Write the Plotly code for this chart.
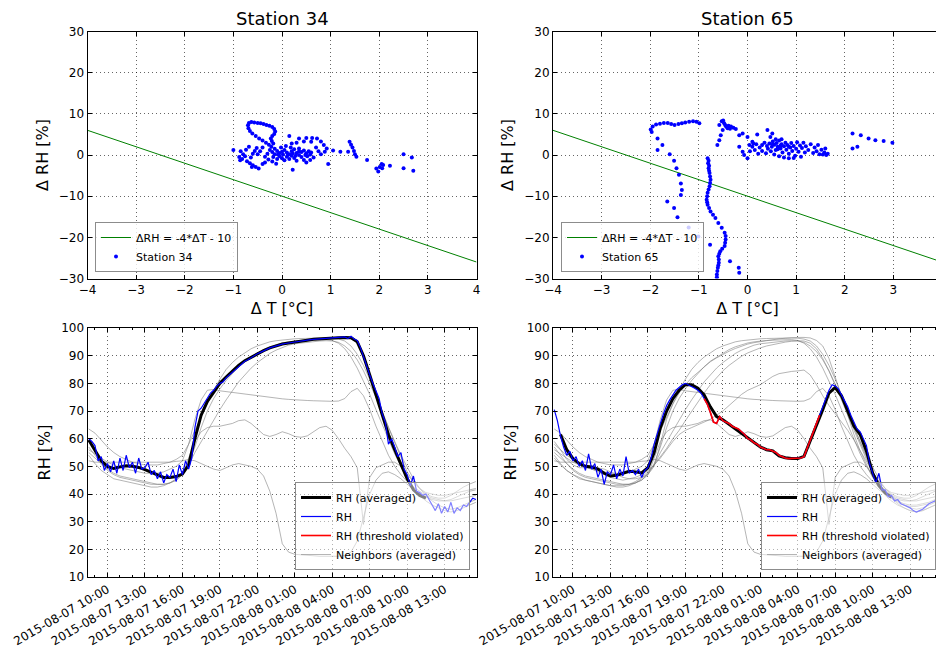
import pandas as pd
import plotly.graph_objects as go

# ---------------- time grids ----------------
t30 = pd.date_range("2015-08-07 08:30", periods=63, freq="30min")
t15 = pd.date_range("2015-08-07 08:30", periods=125, freq="15min")

# ---------------- scatter data (dT, dRH) ----------------
s34_dT = [-0.70, -0.68, -0.63, -0.57, -0.50, -0.44, -0.38, -0.32, -0.26, -0.20, -0.16, -0.14, -0.16, -0.20, -0.23, -0.21, -0.18,
          -0.69, -0.66, -0.61, -0.54, -0.47, -0.40, -0.33, -0.27, -0.22,
          -0.15, -0.10, -0.05, 0.00, 0.05, 0.10, 0.15, 0.20, 0.25, 0.30, 0.35, 0.40, 0.45, 0.50, 0.55, -0.05, 0.00, 0.05, 0.10, 0.15, 0.20,
          -0.10, -0.15, -0.20, -0.25, -0.30, -0.35, -0.28, -0.20, -0.12, 0.25, 0.30, 0.35, 0.40, 0.45, 0.52, 0.58, -0.40, -0.45, -0.50,
          -0.02, 0.08, 0.18, 0.12, -0.08, 0.02, 0.22, 0.28, -0.18, 0.35, 0.48, 0.60,
          -0.85, -0.80, -0.88, -0.82, -0.76, -0.72, -0.66, -0.60, -0.54, -0.48, -0.64, -0.60, -0.56, -0.52, -0.68, -0.74, -0.86, -0.62, -0.40, -0.35, -1.00,
          0.15, 0.35, 0.50, 0.62, 0.72, 0.80, 0.86, 0.92, 0.60, 0.45, 0.30, 0.20, 0.70, 0.75, 0.80, 0.65, 0.58, 0.50, 0.22, 0.95, 0.88,
          1.05, 1.20, 1.36, 1.39, 1.42, 1.45, 1.48, 1.50, 1.53, 1.75, 1.94, 1.98, 2.01, 2.05, 2.08, 2.06, 2.22, 2.50, 2.50, 2.67, 2.70]
s34_dRH = [7.2, 7.8, 8.0, 7.9, 7.8, 7.7, 7.5, 7.3, 7.1, 6.8, 6.3, 5.7, 5.1, 4.6, 4.0, 3.4, 2.8,
           6.5, 5.8, 5.2, 4.6, 4.0, 3.5, 3.0, 2.5, 2.0,
           1.5, 1.0, 0.5, 0.8, 1.2, 0.6, 0.2, 0.9, 1.4, 0.5, 0.0, 0.7, 1.1, 0.4, 0.9, -0.3, -0.8, -1.3, -0.4, -1.0, -0.2,
           -1.0, 0.2, 0.7, 1.2, 0.3, -0.4, -1.1, -1.6, -2.1, -0.7, -1.4, 1.6, -0.5, -1.2, -0.3, 0.1, 1.8, 0.9, 0.2,
           1.8, 2.2, 1.8, 0.0, 0.2, 0.1, 0.4, -0.2, -0.5, 0.9, 0.0, 0.6,
           0.9, 0.2, -0.5, -1.0, -0.3, -1.5, -2.0, -2.5, -2.9, -3.3, -0.6, 0.3, 1.0, 1.7, 2.0, 1.3, -1.3, -2.9, -2.2, -1.8, 1.2,
           4.6, 4.0, 4.1, 4.1, 4.0, 3.3, 2.4, 1.6, 3.2, 3.3, 3.0, 2.8, 1.8, 0.9, 0.2, -0.6, -1.2, -1.8, -3.6, -2.2, 0.8,
           1.1, 0.8, 0.8, 3.2, 2.5, 1.8, 1.0, 0.2, -0.4, -1.2, -3.3, -4.0, -2.9, -2.2, -2.4, -3.2, -2.6, 0.2, -3.2, -0.6, -3.8]

s65_dT = [-1.97, -1.99, -1.95, -1.88, -1.80, -1.72, -1.64, -1.57, -1.50, -1.42, -1.35, -1.28, -1.20, -1.12, -1.05, -0.99,
          -1.85, -1.75, -1.85, -1.60, -1.51, -1.46, -1.41, -1.37, -1.35, -1.37, -1.65, -1.51, -1.44, -1.21, -1.01, -0.77,
          -0.82, -0.81, -0.80, -0.78, -0.76, -0.78, -0.82, -0.84, -0.82, -0.76, -0.71, -0.66, -0.60, -0.53, -0.47, -0.45, -0.45, -0.46,
          -0.47, -0.52, -0.56, -0.58, -0.60, -0.59, -0.59, -0.60, -0.61, -0.62, -0.63, -0.63, -0.80, -0.79, -0.79, -0.77, -0.77, -0.80,
          -0.83, -0.83, -0.79, -0.36, -0.18, -0.17,
          -0.58, -0.53, -0.48, -0.44, -0.39, -0.34, -0.29, -0.24, -0.51, -0.55, -0.58, -0.62, -0.50, -0.46, -0.41, -0.36,
          -0.17, -0.10, 0.00, 0.10, 0.20, 0.41, 0.51, 0.47, -0.17, -0.10, 0.00, -0.07, 0.04,
          0.10, 0.18, 0.25, 0.30, 0.35, 0.40, 0.42, 0.45, 0.50, 0.52, 0.55, 0.58, 0.60, 0.62, 0.65, 0.68, 0.70, 0.72, 0.75, 0.78,
          0.80, 0.82, 0.85, 0.88, 0.90, 0.92, 0.95, 0.98, 1.00, 1.02, 1.05, 1.08, 1.10, 1.12, 1.15, 1.18, 1.20, 1.25, 1.30, 1.35,
          1.38, 1.42, 1.45, 1.48, 1.52, 1.55, 1.58, 1.62, 1.65, 1.60, 0.30, 0.38, 0.48, 0.55, 0.65, 0.75, 0.85, 0.95, 0.58, 0.70,
          0.15, 0.22, 0.05, 0.12, 0.85, 0.62, 0.68, 0.52,
          2.16, 2.33, 2.49, 2.63, 2.80, 2.98, 2.16, 2.26]
s65_dRH = [5.6, 6.2, 6.9, 7.4, 7.6, 7.8, 7.8, 7.5, 7.3, 7.5, 7.7, 7.9, 8.1, 8.2, 8.1, 7.7,
           4.0, 2.4, 1.2, 0.2, -1.4, -3.2, -4.8, -6.9, -8.5, -9.7, -11.3, -12.9, -15.1, -17.6, -19.8, -21.8,
           -0.8, -2.0, -3.2, -4.4, -6.0, -7.6, -9.2, -10.9, -12.1, -13.7, -14.5, -15.3, -16.5, -17.7, -18.9, -19.7, -20.5, -21.3,
           -22.1, -22.8, -23.4, -24.0, -24.6, -25.4, -26.2, -26.8, -27.4, -28.2, -29.0, -29.7, -1.4, -2.6, -3.8, -5.2, -6.8, -8.4,
           -10.0, -11.5, -12.9, -25.8, -27.4, -28.6,
           7.3, 8.2, 7.7, 6.9, 7.1, 6.9, 6.6, 6.3, 6.1, 4.8, 3.6, 2.4, 8.4, 7.3, 6.5, 6.4,
           4.8, 5.2, 4.4, 3.2, 5.0, 6.1, 5.2, 4.4, 2.0, 0.8, -0.8, 0.0, 2.4,
           2.0, 2.6, 1.8, 2.4, 3.0, 2.2, 1.5, 2.8, 2.0, 3.3, 2.5, 1.2, 2.9, 2.0, 3.5, 1.6, 2.6, 0.6, 2.1, 3.0,
           1.3, 2.4, 0.3, 1.8, 2.9, 1.0, 2.2, -0.2, 1.5, 3.1, 0.8, 2.3, -0.4, 1.7, 3.0, 0.6, 2.1, 1.2, 2.6, 0.5,
           1.8, 0.9, 2.4, 0.2, 1.3, 0.1, 0.6, 0.0, 0.3, 1.6, 1.0, 0.4, 0.9, 0.1, -0.3, -0.6, -0.8, -0.7, 3.8, 3.8,
           1.2, 0.3, 0.9, 2.8, 2.0, 1.4, 2.3, 2.6,
           5.2, 4.8, 4.0, 3.6, 3.4, 3.0, 1.6, 2.0]

# threshold line  dRH = -4*dT - 10 (end points)
line_dT = [-4, 4]
line_dRH = [6, -26]

# ---------------- RH time series (15-min raw) ----------------
rh34 = [60, 59,
        57.5, 52, 53.5, 48.5, 51, 48, 52, 47.5, 53, 48.5, 54, 49.5, 51.5, 47.5, 53, 49,
        49.5, 51.5, 47, 48.5, 45.5, 48, 44, 47, 46, 49, 44.5, 50.5, 47, 52, 49, 53,
        64, 70, 71, 73, 74.5, 76.5, 77.5, 79, 80, 80.5, 82, 83, 84, 85, 86, 87,
        88, 88.5, 89.3, 90, 90.7, 91.2, 91.8, 92.3, 92.8, 93.2, 93.6, 93.9,
        94.2, 94.4, 94.6, 94.8, 95, 95.2, 95.3, 95.5, 95.6, 95.8, 95.9, 96, 96.1, 96.2, 96.3, 96.4,
        96.4, 96.5, 96.5, 96.6, 96.8, 96.2, 97, 96, 95.5, 93, 89.5, 86.5, 83, 80, 77, 74.5,
        69, 66, 58, 60, 57, 53.5, 55, 49, 47, 43, 46.5, 41, 40.5, 39.5, 40, 38,
        36, 34, 36.5, 33, 35.5, 33.5, 37, 33, 35, 34, 36, 35.5, 37, 38.5, 38]
rh65 = [70.5, 66.5,
        61, 57, 54, 55.5, 52, 53.5, 50, 52, 48.5, 54.5, 49, 51, 46, 49, 43.5, 48,
        47, 50.5, 45.5, 49, 46.5, 53.5, 47.5, 48.5, 47, 49, 46, 48.5, 49.5, 53, 58, 62,
        65.5, 69, 72, 74, 76, 77.5, 78.5, 79.5, 80, 79.5, 79, 78.2, 77.5, 76.5, 74.5, 72.5,
        69.5, 66, 65.5, 68, 66.5, 66, 65.5, 64.5, 64, 63.5, 62.5, 61.5,
        60, 59.5, 58.5, 58, 57, 56.5, 56, 56, 55.5, 55, 54, 53.5, 53, 52.8, 52.8, 52.8,
        52.8, 53, 53.5, 56.5, 59, 62.5, 65.5, 68.5, 71, 74.5, 77.5, 79.5, 79, 78, 76, 73.5,
        71.5, 68.5, 66, 63.5, 62.5, 60, 57.5, 51, 47, 44, 47.5, 41.5, 41.5, 39, 39.5, 37.5,
        38, 36.5, 36, 35.5, 35, 34, 33.5, 34, 34.5, 35.5, 36.5, 37, 37.5, 38.5, 40]
violated65 = ("2015-08-07 20:30", "2015-08-08 05:45")
violated34 = None

# ---------------- averaged RH (30-min) ----------------
avg34 = [59.5,
         56, 52, 50, 49.2, 49.8, 50.2, 50, 49.6, 48.8, 47.8, 46.8, 46, 46, 46.3, 47.2, 50.5,
         60, 68.5, 73.5, 77, 80, 82.3, 84.5, 86.5, 88.2, 89.5, 90.7, 91.8, 92.8, 93.6,
         94.2, 94.6, 95, 95.3, 95.6, 95.9, 96.1, 96.3, 96.4, 96.5, 96.6, 96.5, 95, 90, 83, 76,
         69, 61.5, 56, 50.5, 45.5, 41.5, 39.5, 38.5, None, None, None, None, None, None, None, None]
avg65 = [None,
         61.5, 56, 52.8, 51, 50, 49.8, 49, 47.5, 46.5, 46.8, 47.5, 48.2, 48, 47.6, 49.5, 55,
         64, 70, 74.5, 77.5, 79.5, 79.5, 78.2, 75.8, 71.5, 68, 66.8, 65.2, 63.6, 62,
         60.2, 58.7, 57, 56, 55.6, 53.8, 53.1, 52.8, 52.8, 53.6, 59, 65, 70.5, 76.5, 78.5, 75.5,
         70, 64.5, 61.5, 55.5, 47.5, 43, 40.4, 38.8, None, None, None, None, None, None, None, None]

# ---------------- neighbours (averaged, 30-min) ----------------
nb_fast = [63.5,
           62, 59.5, 57, 55, 53.5, 52.5, 51.5, 51, 50.5, 50.5, 50.5, 51, 51.5, 52.5, 54, 58,
           63, 68, 73, 77.5, 81.5, 85, 87.5, 89.5, 91, 92.5, 93.5, 94.3, 95, 95.4,
           95.7, 96, 96.1, 96.2, 96.3, 96.3, 96.4, 96.4, 96.3, 96, 95.3, 93.5, 90.5, 86.5, 81.5, 76,
           70, 64, 58.5, 53, 48, 44.5, 42, 40.5, 40, 39.5, 39.5, 40, 40.5, 41, 41.5, 42]
nb_slow = [54,
           51, 48.5, 47, 45.5, 45, 44.5, 44, 43.5, 43, 42.5, 42.5, 43, 44, 45.5, 47.5, 50.5,
           55, 59, 62.5, 66.5, 70.5, 74, 77.5, 80.5, 83, 85.5, 87.5, 89.3, 90.8, 92,
           93, 93.8, 94.3, 94.6, 94.9, 95.1, 95.3, 95.4, 95.3, 94.8, 93.5, 91.5, 88.5, 84.5, 80, 75,
           69.5, 64, 59, 54, 49.5, 45.5, 42, 39.5, 37.5, 36, 35, 34.5, 35, 36, 37, 38]
nb_mid = [57,
          54, 51, 48.5, 47, 46, 45.5, 45, 44.5, 44, 43.5, 43.5, 43.5, 44, 45, 47, 51,
          57, 64, 70, 74.5, 78, 81, 83.5, 86, 88, 89.5, 91, 92.2, 93.2, 94,
          94.6, 95, 95.3, 95.5, 95.6, 95.7, 95.8, 95.8, 95.5, 94.5, 92.5, 89.5, 85.5, 81, 76, 70.5,
          65, 59.5, 54.5, 50, 46, 42.5, 39.5, 37.5, 36, 35, 34, 33.5, 34, 35, 36, 37]
nb_77 = [56,
         54.5, 53, 51.5, 50.5, 49.5, 49, 48.5, 48, 47.5, 47.5, 47.5, 48, 49, 50, 52, 58,
         67, 74, 77.5, 77.8, 77.3, 77, 76.6, 76.3, 76, 75.7, 75.4, 75.1, 74.8, 74.6,
         74.4, 74.2, 74, 73.9, 73.8, 73.7, 73.6, 73.5, 73.5, 73.6, 74.5, 77, 78.2, 75.5, 70.5, 64.5,
         59, 54, 50, 47, 44.5, 42.5, 41, 39.5, 38.5, 38, 37.5, 37.5, 38, 38.5, 39, 39.5]
nb_wavy = [55,
           53, 51, 49, 47.5, 46.5, 46, 45.5, 45, 44.5, 44, 43.5, 43.5, 44, 45, 47, 53,
           59, 62.5, 64, 64.5, 64.5, 65, 65.5, 66.5, 66.8, 65.5, 63.5, 61.5, 60.8, 61.5,
           62.5, 61.8, 60.8, 60.5, 61, 62.5, 64, 64.5, 63, 60, 56.5, 53.5, 49.5, 29, 46, 49.5,
           50.5, 51.5, 51.5, 50, 47, 44.5, 42, 40, 39, 38.5, 38.5, 39.5, 41, 42.5, 43.6, 44.5]
nb_drop = [52,
           51.5, 51.5, 51.5, 51.5, 51.5, 51.5, 51.5, 51.5, 51.5, 51.5, 51.5, 51.5, 51.5, 51.8, 52, 52.5,
           52, 51, 50, 49, 48.5, 49.5, 50.5, 51, 50.5, 50, 49, 46.5, 41, 33,
           22, 19, 18.2, 18, 17.8, 17.6, 17.5, 17.5, 17.5, 17.5, 17.8, 19, 23, 32, 40, 45,
           47.5, 48, 47, 45.5, 43.5, 41.5, 40, 39, 38, 37.5, 37.5, 38, 39, 40, 41, 41.5]
nb_a = [53,
        50.5, 48.5, 47, 46, 45, 44.5, 44, 43.5, 43, 43, 43, 43.5, 44.5, 46, 48, 50.5,
        53.5, 56.5, 60, 63, 66.5, 70, 73.5, 76.5, 79.5, 82, 84.5, 86.5, 88.3, 89.8,
        91, 92, 92.8, 93.5, 94, 94.5, 94.9, 95.2, 95.4, 95.3, 94.5, 92.5, 89, 84.5, 79.5, 74,
        68.5, 63, 57.5, 52.5, 48, 44, 41, 38.5, 36.5, 35, 34, 33.5, 34, 35, 36, 37]
nb_b = [59,
        56, 52.5, 50.5, 49.5, 49.5, 49.8, 49.5, 49, 48, 47, 46, 45.5, 45.5, 46, 47, 50,
        58, 67, 72.5, 76.5, 79.5, 82, 84, 86, 87.8, 89.2, 90.5, 91.6, 92.6, 93.5,
        94.2, 94.7, 95.1, 95.5, 95.8, 96.1, 96.3, 96.5, 96.6, 96.6, 96.4, 95.5, 93.5, 89, 82.5, 75.5,
        68.5, 61.5, 55.5, 50.5, 46, 42.5, 40, 38.5, 37.5, 36.5, 36, 36, 36.5, 37, 38, 39]
nb_85 = [58,
         56, 54, 52.5, 51, 50, 49, 48, 47, 46, 45.5, 45, 45.5, 46, 47, 48.5, 50.5,
         53, 56, 59, 61.5, 63, 64, 65, 66, 67, 68.5, 70, 72, 74, 76,
         77.5, 78.5, 79.5, 81, 82.5, 83.5, 84, 84.3, 84.5, 84.8, 83, 79.5, 75.5, 72, 69, 66,
         63, 59.5, 55.5, 51.5, 47.5, 44, 41, 38.5, 37, 36, 35.5, 35.5, 36, 36.5, 37.5, 38.5]

neighbors34 = [nb_fast, nb_slow, nb_mid, nb_77, nb_wavy, nb_drop]
neighbors65 = [nb_fast, nb_slow, nb_mid, nb_a, nb_b, nb_85, nb_77, nb_wavy, nb_drop]

# ---------------- figure ----------------
# the page body keeps an 8 px margin, so the figure is drawn 8 px smaller and
# all positions below are given in window pixels, shifted by that offset
OFF = 8
W, H = 944 - OFF, 648 - OFF
FONT = "DejaVu Sans"


def dx(a, b):
    return [(a - OFF) / W, (b - OFF) / W]


def dy(top, bottom):
    return [1 - (bottom - OFF) / H, 1 - (top - OFF) / H]


def px(a):
    return (a - OFF) / W


def py(b):
    return 1 - (b - OFF) / H


fig = go.Figure()

panels = [
    dict(name="Station 34", dT=s34_dT, dRH=s34_dRH, rh=rh34, avg=avg34, nbs=neighbors34, viol=violated34),
    dict(name="Station 65", dT=s65_dT, dRH=s65_dRH, rh=rh65, avg=avg65, nbs=neighbors65, viol=violated65),
]

for i, p in enumerate(panels):
    xt, yt = ("x", "y") if i == 0 else ("x2", "y2")
    xb, yb = ("x3", "y3") if i == 0 else ("x4", "y4")
    lt = "legend" if i == 0 else "legend2"
    lb = "legend3" if i == 0 else "legend4"

    # top scatter panel
    fig.add_trace(go.Scatter(x=line_dT, y=line_dRH, mode="lines", line=dict(color="#008000", width=1),
                             name="ΔRH = -4*ΔT - 10", xaxis=xt, yaxis=yt, legend=lt))
    fig.add_trace(go.Scatter(x=p["dT"], y=p["dRH"], mode="markers",
                             marker=dict(color="#0000ff", size=4, line=dict(width=0)),
                             name=p["name"], xaxis=xt, yaxis=yt, legend=lt))

    # bottom time series panel
    for k, nb in enumerate(p["nbs"]):
        fig.add_trace(go.Scatter(x=t30, y=nb, mode="lines", line=dict(color="rgba(120,120,120,0.55)", width=1),
                                 name="Neighbors (averaged)", showlegend=(k == 0), legendrank=4,
                                 xaxis=xb, yaxis=yb, legend=lb))
    fig.add_trace(go.Scatter(x=t30, y=p["avg"], mode="lines", line=dict(color="black", width=3),
                             name="RH (averaged)", legendrank=1, xaxis=xb, yaxis=yb, legend=lb))
    fig.add_trace(go.Scatter(x=t15, y=p["rh"], mode="lines", line=dict(color="#0000ff", width=1.2),
                             name="RH", legendrank=2, xaxis=xb, yaxis=yb, legend=lb))
    if p["viol"] is not None:
        s, e = pd.Timestamp(p["viol"][0]), pd.Timestamp(p["viol"][1])
        red = [v if s <= t <= e else None for t, v in zip(t15, p["rh"])]
    else:
        red = [None] * len(t15)
    fig.add_trace(go.Scatter(x=t15, y=red, mode="lines", line=dict(color="#ff0000", width=1.6),
                             name="RH (threshold violated)", legendrank=3, xaxis=xb, yaxis=yb, legend=lb))

axis_common = dict(showline=True, linecolor="black", linewidth=1, mirror="ticks", ticks="inside",
                   ticklen=4, tickcolor="black", showgrid=True, gridcolor="rgba(0,0,0,0.6)",
                   griddash="1px,3px", gridwidth=1, zeroline=False, automargin=False,
                   ticklabeloverflow="allow",
                   tickfont=dict(family=FONT, size=12, color="black"))

xcols = [dx(87.5, 476.5), dx(553, 942)]
top_dom = dy(31.5, 278.5)
bot_dom = dy(328, 577)

for i in range(2):
    nx = "" if i == 0 else "2"
    fig.layout["xaxis" + nx] = dict(axis_common, domain=xcols[i], anchor="y" + nx, range=[-4, 4], dtick=1,
                                    title=dict(text="Δ T [°C]", font=dict(family=FONT, size=16, color="black"),
                                               standoff=6))
    fig.layout["yaxis" + nx] = dict(axis_common, domain=top_dom, anchor="x" + nx, range=[-30, 30], dtick=10,
                                    title=dict(text="Δ RH [%]", font=dict(family=FONT, size=16, color="black"),
                                               standoff=6))
    nb_ = "3" if i == 0 else "4"
    fig.layout["xaxis" + nb_] = dict(axis_common, type="date", domain=xcols[i], anchor="y" + nb_,
                                     range=["2015-08-07 08:24", "2015-08-08 15:33"],
                                     tick0="2015-08-07 10:00", dtick=3 * 3600000, tickformat="%Y-%m-%d %H:%M",
                                     tickangle=-30, tickfont=dict(family=FONT, size=12, color="black"),
                                     minor=dict(ticks="inside", ticklen=2, tickcolor="black",
                                                dtick=3600000, tick0="2015-08-07 10:00", showgrid=False))
    fig.layout["yaxis" + nb_] = dict(axis_common, domain=bot_dom, anchor="x" + nb_, range=[10, 100], dtick=10,
                                     title=dict(text="RH [%]", font=dict(family=FONT, size=16, color="black"),
                                                standoff=6))

leg_common = dict(bordercolor="#8c8c8c", borderwidth=1, font=dict(family=FONT, size=11, color="black"),
                  itemwidth=30, tracegroupgap=0)
fig.update_layout(
    legend=dict(leg_common, x=px(95), y=py(272), xanchor="left", yanchor="bottom",
                bgcolor="rgba(255,255,255,0.8)"),
    legend2=dict(leg_common, x=px(561), y=py(272), xanchor="left", yanchor="bottom",
                 bgcolor="rgba(255,255,255,0.8)"),
    legend3=dict(leg_common, x=px(470), y=py(570), xanchor="right", yanchor="bottom",
                 bgcolor="rgba(255,255,255,0.5)"),
    legend4=dict(leg_common, x=px(936), y=py(570), xanchor="right", yanchor="bottom",
                 bgcolor="rgba(255,255,255,0.5)"),
)

for i, p in enumerate(panels):
    fig.add_annotation(text=p["name"], x=sum(xcols[i]) / 2, y=py(18), xref="paper", yref="paper",
                       showarrow=False, font=dict(family=FONT, size=18, color="black"),
                       xanchor="center", yanchor="middle")

fig.update_layout(width=W, height=H, autosize=False, template="none",
                  margin=dict(l=0, r=0, t=0, b=0), paper_bgcolor="white", plot_bgcolor="white",
                  font=dict(family=FONT, color="black"), hovermode=False)

fig.write_html("out.html")
